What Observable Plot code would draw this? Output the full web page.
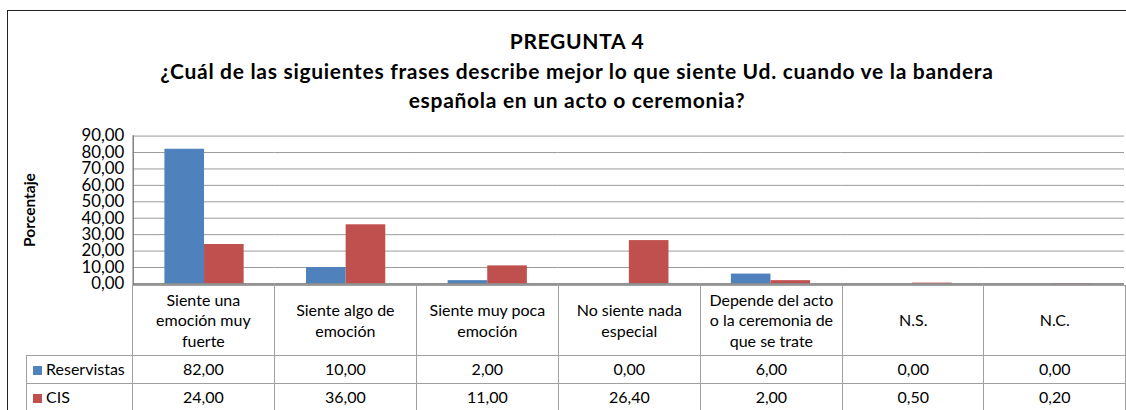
<!DOCTYPE html>
<html>
<head>
<meta charset="utf-8">
<script src="https://cdn.jsdelivr.net/npm/d3@7"></script>
<script src="https://cdn.jsdelivr.net/npm/@observablehq/plot@0.6"></script>
<style>
  html, body { margin: 0; padding: 0; background: #fff; overflow: hidden; width: 1126px; height: 410px; }
  body { font-family: Lato, "Noto Sans", sans-serif; color: #000; position: relative; }
  #frame { position: absolute; left: 7px; top: 10px; width: 1300px; height: 600px; border: 1.5px solid #222; box-sizing: border-box; }
  #title { position: absolute; left: 0; top: 26px; width: 1154px; text-align: center; font-weight: bold; font-size: 21px; letter-spacing: 0.7px; line-height: 29.5px; }
  #ylabel { position: absolute; left: 29px; top: 210px; transform: translate(-50%, -50%) rotate(-90deg); font-weight: bold; font-size: 15.5px; white-space: nowrap; }
  #chart { position: absolute; left: 0; top: 125px; }
  #table { position: absolute; left: 26px; top: 285px; border-collapse: collapse; table-layout: fixed; font-size: 16px; }
  #table td { border: 1px solid #a0a0a0; padding: 0; text-align: center; vertical-align: middle; line-height: 20.5px; }
  #table td.blank { border: none; border-right: 1px solid #a0a0a0; border-top: 1px solid transparent; }
  #table td.leg { text-align: left; padding-left: 6px; white-space: nowrap; }
  .sw { display: inline-block; width: 9px; height: 9px; margin-right: 4px; vertical-align: 0px; }
</style>
</head>
<body>
<div id="frame"></div>
<div id="title"></div>
<div id="ylabel"></div>
<div id="chart"></div>
<table id="table"></table>
<script>
const titleLines = ["PREGUNTA 4", "¿Cuál de las siguientes frases describe mejor lo que siente Ud. cuando ve la bandera", "española en un acto o ceremonia?"];
const yTitle = "Porcentaje";
const categories = ["Siente una emoción muy fuerte", "Siente algo de emoción", "Siente muy poca emoción", "No siente nada especial", "Depende del acto o la ceremonia de que se trate", "N.S.", "N.C."];
const categoryLines = [["Siente una", "emoción muy", "fuerte"], ["Siente algo de", "emoción"], ["Siente muy poca", "emoción"], ["No siente nada", "especial"], ["Depende del acto", "o la ceremonia de", "que se trate"], ["N.S."], ["N.C."]];
const seriesNames = ["Reservistas", "CIS"];
const reservistas = [82.00, 10.00, 2.00, 0.00, 6.00, 0.00, 0.00];
const cis = [24.00, 36.00, 11.00, 26.40, 2.00, 0.50, 0.20];
const seriesColors = ["#4F81BD", "#C0504D"];
const yTicks = [0, 10, 20, 30, 40, 50, 60, 70, 80, 90];

const fmt = d => d.toFixed(2).replace(".", ",");
const seriesValues = [reservistas, cis];

document.getElementById("title").innerHTML = titleLines.map(t => `<div>${t}</div>`).join("");
document.getElementById("ylabel").textContent = yTitle;

const data = [];
categories.forEach((c, i) => seriesNames.forEach((s, j) => data.push({category: c, series: s, value: seriesValues[j][i]})));

const colW = 143.5;
const marginLeft = 132;
const chart = Plot.plot({
  width: Math.ceil(marginLeft + colW * categories.length),
  height: 170,
  marginLeft: marginLeft,
  marginRight: 0,
  marginTop: 10.7,
  marginBottom: 10,
  style: {fontFamily: "Lato, 'Noto Sans', sans-serif", fontSize: "17px", color: "#000", background: "transparent", overflow: "visible"},
  fx: {domain: categories, padding: 0, axis: null},
  x: {domain: seriesNames, paddingInner: 0, paddingOuter: 0.75, axis: null},
  y: {domain: [0, 90], axis: null},
  color: {domain: seriesNames, range: seriesColors},
  marks: [
    Plot.gridY(yTicks, {stroke: "#9a9a9a", strokeOpacity: 1}),
    Plot.barY(data, {fx: "category", x: "series", y: "value", fill: "series"}),
    Plot.axisY(yTicks, {tickFormat: fmt, tickSize: 0, tickPadding: 9, label: null, fontSize: 17}),
    Plot.ruleY([0], {stroke: "#808080", strokeWidth: 1.5}),
    Plot.frame({anchor: "left", facetAnchor: "left", stroke: "#808080", strokeWidth: 1.5})
  ]
});
document.getElementById("chart").appendChild(chart);

// data table
const table = document.getElementById("table");
let html = `<colgroup><col style="width:106px">${categories.map(() => `<col style="width:${colW}px">`).join("")}</colgroup>`;
html += `<tr style="height:70px"><td class="blank"></td>${categoryLines.map(l => `<td>${l.join("<br>")}</td>`).join("")}</tr>`;
seriesNames.forEach((s, j) => {
  html += `<tr style="height:${j === 0 ? 28 : 27}px"><td class="leg"><span class="sw" style="background:${seriesColors[j]}"></span>${s}</td>${seriesValues[j].map(v => `<td>${fmt(v)}</td>`).join("")}</tr>`;
});
table.innerHTML = html;
</script>
</body>
</html>
